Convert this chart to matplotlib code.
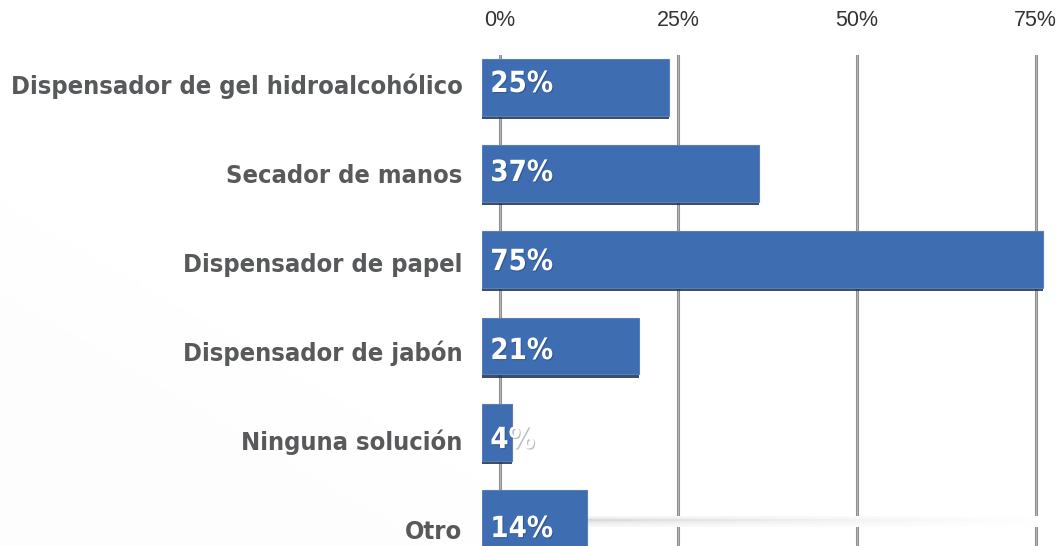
import matplotlib
matplotlib.use('Agg')
import matplotlib.pyplot as plt
import matplotlib.transforms as mtrans
import matplotlib.patheffects as pe
import numpy as np

categories = ['Dispensador de gel hidroalcohólico', 'Secador de manos',
              'Dispensador de papel', 'Dispensador de jabón',
              'Ninguna solución', 'Otro']
values = [25, 37, 75, 21, 4, 14]
ticks = [0, 25, 50, 75]
tick_labels = ['0%', '25%', '50%', '75%']

W, H = 1059, 546
fig = plt.figure(figsize=(W / 100, H / 100), dpi=100)

# faint diagonal shading in the background
bg = fig.add_axes([0, 0, 1, 1], zorder=0)
gx, gy = np.meshgrid(np.linspace(0, 1, 300), np.linspace(0, 1, 160))
shade = np.clip((0.5 - (gx * 0.8 + gy * 0.7)) * 4, 0, 1)
bg.imshow(shade, cmap='Greys', vmin=0, vmax=60, origin='lower',
          extent=[0, 1, 0, 1], aspect='auto')
bg.axis('off')

narrow = dict(family='DejaVu Sans', stretch='condensed', weight='bold')
rect = [482 / W, 0, (W - 482) / W, (H - 55) / H]

# axis carrying grid, ticks and category labels
ax = fig.add_axes(rect, zorder=1)
ax.patch.set_alpha(0)
ax.set_xlim(-2.45, 78.26)
ax.set_ylim(5.19, -0.326)
ax.set_xticks(ticks)
ax.set_xticklabels(tick_labels, fontsize=15.5, color='#333333',
                   family='Liberation Sans')
ax.xaxis.tick_top()
ax.tick_params(axis='x', length=0, pad=17)
for t in ticks:
    ax.axvline(t, color='#8f8f8f', lw=2.2, zorder=1)
    ax.axvline(t, color='#bdbdbd', lw=0.6, zorder=1)
ax.set_yticks(range(len(categories)))
ax.set_yticklabels(categories, fontsize=18.3, color='#58595b', **narrow)
ax.tick_params(axis='y', length=0, pad=14)
for s in ax.spines.values():
    s.set_visible(False)

# axis carrying the bars (slightly different scale, like the 3D original)
bx = fig.add_axes(rect, zorder=2)
bx.patch.set_alpha(0)
bx.set_xlim(0, 77.14)
bx.set_ylim(5.32, -0.377)
ypos = np.arange(len(values))

# faint reflection streak behind the last bar
streak = np.linspace(1, 0, 200)[None, :] * np.array([0.4, 1, 0.6, 0.3])[:, None]
bx.imshow(streak, cmap='Greys', vmin=0, vmax=4, aspect='auto', zorder=0,
          extent=[values[-1], ticks[-1], ypos[-1] + 0.1, ypos[-1] - 0.02])

bx.barh(ypos + 0.035, values, height=0.66, color='#1c2f4f', alpha=0.85, zorder=1)
bx.barh(ypos, values, height=0.66, color='#3e6db1', edgecolor='#5a7fb5',
        linewidth=0.8, zorder=2)
bx.axis('off')
bx.set_xlim(0, 77.14)
bx.set_ylim(5.32, -0.377)

tr = mtrans.blended_transform_factory(bx.transData, ax.transData)
for i, v in enumerate(values):
    bx.annotate(f'{v}%', xy=(0, i), xycoords=tr, xytext=(6, 0),
                textcoords='offset points', ha='left', va='center',
                fontsize=21, color='white', zorder=3,
                path_effects=[pe.withSimplePatchShadow(offset=(0.8, -0.8),
                                                       shadow_rgbFace='#1a2a44',
                                                       alpha=0.3)],
                **narrow)

fig.savefig('out.png', dpi=100)
